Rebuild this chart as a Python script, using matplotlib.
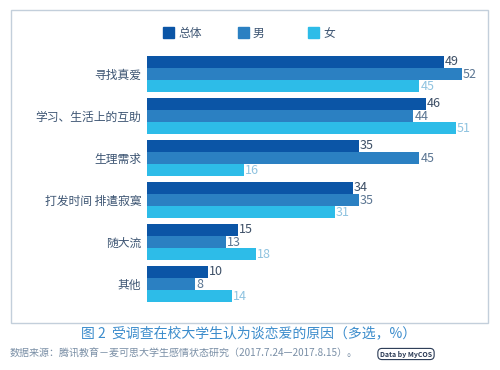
import matplotlib
matplotlib.use('Agg')
from matplotlib import pyplot as plt
from matplotlib.patches import Rectangle
import numpy as np

plt.rcParams['font.family'] = ['Noto Sans CJK SC', 'DejaVu Sans']

# data
categories = ['寻找真爱', '学习、生活上的互助', '生理需求', '打发时间 排遣寂寞', '随大流', '其他']
series_names = ['总体', '男', '女']
total = [49, 46, 35, 34, 15, 10]
male = [52, 44, 45, 35, 13, 8]
female = [45, 51, 16, 31, 18, 14]

colors = ['#0b55a6', '#2b80c2', '#2dbce8']
label_colors = ['#3d4f66', '#5a7592', '#8fc3e0']

fig = plt.figure(figsize=(5, 3.7), dpi=100)
W, H = 500, 370

# outer frame
fig.patches.append(Rectangle((11 / W, 1 - 323 / H), 477 / W, 313 / H,
                             transform=fig.transFigure, fill=False,
                             edgecolor='#c3cfdb', linewidth=1))

ax = fig.add_axes([147 / W, 1 - 305 / H, 333 / W, 252 / H])
y = np.arange(len(categories))
h = 0.29
for k, vals in enumerate([total, male, female]):
    pos = y + (k - 1) * h
    ax.barh(pos, vals, height=h, color=colors[k], label=series_names[k])
    for p, v in zip(pos, vals):
        ax.text(v + 0.2, p, str(v), va='center', ha='left',
                fontsize=9, color=label_colors[k])

ax.set_xlim(0, 55)
ax.set_ylim(5.5, -0.5)
ax.set_yticks(y)
ax.set_yticklabels(categories, fontsize=8.5, color='#3d5573')
ax.tick_params(axis='y', length=0, pad=4)
ax.set_xticks([])
for s in ax.spines.values():
    s.set_visible(False)

# legend
leg_x = [163, 238, 308]
for k, name in enumerate(series_names):
    fig.patches.append(Rectangle(((leg_x[k]) / W, 1 - 38 / H), 11 / W, 11 / H,
                                 transform=fig.transFigure, color=colors[k]))
    fig.text((leg_x[k] + 15) / W, 1 - 33 / H, name, fontsize=8.5,
             color='#3d5573', va='center', ha='left')

fig.text(249 / W, 1 - 333 / H, '图 2  受调查在校大学生认为谈恋爱的原因（多选，%）',
         ha='center', va='center', fontsize=10, color='#3b8ccc')
fig.text(10 / W, 1 - 354 / H,
         '数据来源：腾讯教育－麦可思大学生感情状态研究（2017.7.24—2017.8.15）。',
         ha='left', va='center', fontsize=7.2, color='#7a8fa6')
fig.text(406 / W, 1 - 354 / H, 'Data by MyCOS', ha='center', va='center',
         fontsize=5, color='#2a3a55', fontweight='bold',
         bbox=dict(boxstyle='round,pad=0.3,rounding_size=0.6', fc='white',
                   ec='#2a3a55', lw=0.8))

fig.savefig('out.png', dpi=100)
